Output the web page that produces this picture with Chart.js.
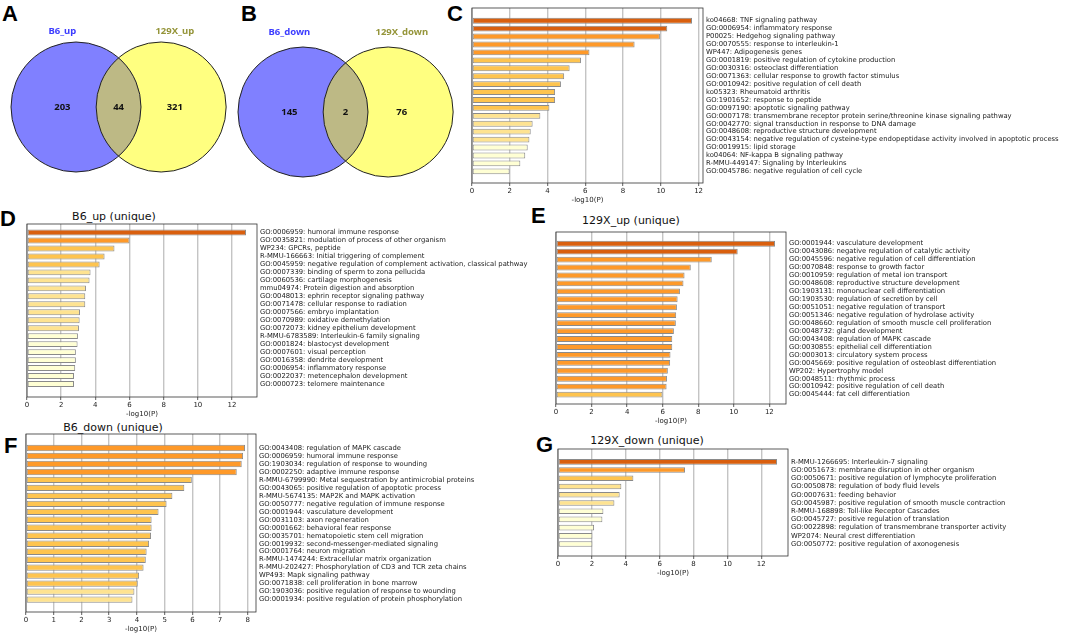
<!DOCTYPE html>
<html>
<head>
<meta charset="utf-8">
<script src="https://cdn.jsdelivr.net/npm/chart.js@4.4.0/dist/chart.umd.min.js"></script>
<style>
  body { margin: 0; background: #fff; width: 1065px; height: 635px; position: relative; overflow: hidden; }
  canvas { position: absolute; }
  .letter { position: absolute; font: bold 22px "Liberation Sans", Arial, sans-serif; line-height: 22px; color: #000; }
  .ttl { position: absolute; font: 11px "DejaVu Sans", sans-serif; line-height: 13px; color: #111; transform: translateX(-50%); white-space: nowrap; }
</style>
</head>
<body>
<div class="letter" style="left:2px;top:3px">A</div>
<div class="letter" style="left:241px;top:3px">B</div>
<div class="letter" style="left:447px;top:3px">C</div>
<div class="letter" style="left:0px;top:208px">D</div>
<div class="letter" style="left:531px;top:205px">E</div>
<div class="letter" style="left:4px;top:435px">F</div>
<div class="letter" style="left:536px;top:434px">G</div>

<div class="ttl" style="left:114px;top:210px">B6_up (unique)</div>
<div class="ttl" style="left:631px;top:214px">129X_up (unique)</div>
<div class="ttl" style="left:113px;top:421px">B6_down (unique)</div>
<div class="ttl" style="left:647px;top:434px">129X_down (unique)</div>

<canvas id="vennUp"></canvas>
<canvas id="vennDown"></canvas>
<canvas id="chartC"></canvas>
<canvas id="chartD"></canvas>
<canvas id="chartE"></canvas>
<canvas id="chartF"></canvas>
<canvas id="chartG"></canvas>

<script>
// Venn counts: [left only, shared, right only]
const vennUpNames = ["B6_up", "129X_up"];
const vennUpCounts = [203, 44, 321];
const vennDownNames = ["B6_down", "129X_down"];
const vennDownCounts = [145, 2, 76];

// C: shared terms
const sharedTerms = [
  "ko04668: TNF signaling pathway",
  "GO:0006954: inflammatory response",
  "P00025: Hedgehog signaling pathway",
  "GO:0070555: response to interleukin-1",
  "WP447: Adipogenesis genes",
  "GO:0001819: positive regulation of cytokine production",
  "GO:0030316: osteoclast differentiation",
  "GO:0071363: cellular response to growth factor stimulus",
  "GO:0010942: positive regulation of cell death",
  "ko05323: Rheumatoid arthritis",
  "GO:1901652: response to peptide",
  "GO:0097190: apoptotic signaling pathway",
  "GO:0007178: transmembrane receptor protein serine/threonine kinase signaling pathway",
  "GO:0042770: signal transduction in response to DNA damage",
  "GO:0048608: reproductive structure development",
  "GO:0043154: negative regulation of cysteine-type endopeptidase activity involved in apoptotic process",
  "GO:0019915: lipid storage",
  "ko04064: NF-kappa B signaling pathway",
  "R-MMU-449147: Signaling by Interleukins",
  "GO:0045786: negative regulation of cell cycle",
];
const sharedLogP = [11.65, 10.34, 9.95, 8.61, 6.22, 5.77, 5.17, 4.88, 4.71, 4.4,
  4.4, 4.1, 3.62, 3.21, 3.11, 3.04, 2.95, 2.82, 2.56, 1.99];

// D: B6_up unique
const b6UpTerms = [
  "GO:0006959: humoral immune response",
  "GO:0035821: modulation of process of other organism",
  "WP234: GPCRs, peptide",
  "R-MMU-166663: Initial triggering of complement",
  "GO:0045959: negative regulation of complement activation, classical pathway",
  "GO:0007339: binding of sperm to zona pellucida",
  "GO:0060536: cartilage morphogenesis",
  "mmu04974: Protein digestion and absorption",
  "GO:0048013: ephrin receptor signaling pathway",
  "GO:0071478: cellular response to radiation",
  "GO:0007566: embryo implantation",
  "GO:0070989: oxidative demethylation",
  "GO:0072073: kidney epithelium development",
  "R-MMU-6783589: Interleukin-6 family signaling",
  "GO:0001824: blastocyst development",
  "GO:0007601: visual perception",
  "GO:0016358: dendrite development",
  "GO:0006954: inflammatory response",
  "GO:0022037: metencephalon development",
  "GO:0000723: telomere maintenance",
];
const b6UpLogP = [12.82, 6.0, 5.12, 4.54, 4.25, 3.72, 3.66, 3.45, 3.41, 3.41,
  3.1, 3.08, 3.04, 2.98, 2.96, 2.86, 2.86, 2.82, 2.75, 2.75];

// E: 129X_up unique
const x129UpTerms = [
  "GO:0001944: vasculature development",
  "GO:0043086: negative regulation of catalytic activity",
  "GO:0045596: negative regulation of cell differentiation",
  "GO:0070848: response to growth factor",
  "GO:0010959: regulation of metal ion transport",
  "GO:0048608: reproductive structure development",
  "GO:1903131: mononuclear cell differentiation",
  "GO:1903530: regulation of secretion by cell",
  "GO:0051051: negative regulation of transport",
  "GO:0051346: negative regulation of hydrolase activity",
  "GO:0048660: regulation of smooth muscle cell proliferation",
  "GO:0048732: gland development",
  "GO:0043408: regulation of MAPK cascade",
  "GO:0030855: epithelial cell differentiation",
  "GO:0003013: circulatory system process",
  "GO:0045669: positive regulation of osteoblast differentiation",
  "WP202: Hypertrophy model",
  "GO:0048511: rhythmic process",
  "GO:0010942: positive regulation of cell death",
  "GO:0045444: fat cell differentiation",
];
const x129UpLogP = [12.32, 10.22, 8.76, 7.58, 7.23, 7.17, 6.97, 6.84, 6.8, 6.76,
  6.74, 6.63, 6.54, 6.54, 6.44, 6.42, 6.29, 6.24, 6.22, 5.99];

// F: B6_down unique
const b6DownTerms = [
  "GO:0043408: regulation of MAPK cascade",
  "GO:0006959: humoral immune response",
  "GO:1903034: regulation of response to wounding",
  "GO:0002250: adaptive immune response",
  "R-MMU-6799990: Metal sequestration by antimicrobial proteins",
  "GO:0043065: positive regulation of apoptotic process",
  "R-MMU-5674135: MAP2K and MAPK activation",
  "GO:0050777: negative regulation of immune response",
  "GO:0001944: vasculature development",
  "GO:0031103: axon regeneration",
  "GO:0001662: behavioral fear response",
  "GO:0035701: hematopoietic stem cell migration",
  "GO:0019932: second-messenger-mediated signaling",
  "GO:0001764: neuron migration",
  "R-MMU-1474244: Extracellular matrix organization",
  "R-MMU-202427: Phosphorylation of CD3 and TCR zeta chains",
  "WP493: Mapk signaling pathway",
  "GO:0071838: cell proliferation in bone marrow",
  "GO:1903036: positive regulation of response to wounding",
  "GO:0001934: positive regulation of protein phosphorylation",
];
const b6DownLogP = [7.9, 7.83, 7.78, 7.6, 5.98, 5.71, 5.28, 5.07, 4.78, 4.53,
  4.53, 4.51, 4.44, 4.35, 4.32, 4.24, 4.08, 4.03, 3.91, 3.84];

// G: 129X_down unique
const x129DownTerms = [
  "R-MMU-1266695: Interleukin-7 signaling",
  "GO:0051673: membrane disruption in other organism",
  "GO:0050671: positive regulation of lymphocyte proliferation",
  "GO:0050878: regulation of body fluid levels",
  "GO:0007631: feeding behavior",
  "GO:0045987: positive regulation of smooth muscle contraction",
  "R-MMU-168898: Toll-like Receptor Cascades",
  "GO:0045727: positive regulation of translation",
  "GO:0022898: regulation of transmembrane transporter activity",
  "WP2074: Neural crest differentiation",
  "GO:0050772: positive regulation of axonogenesis",
];
const x129DownLogP = [12.93, 7.5, 4.45, 3.74, 3.64, 3.33, 2.68, 2.62, 2.13, 2.03, 2.03];

Chart.defaults.font.family = "'DejaVu Sans'";
Chart.defaults.animation = false;

// bar colour by -log10(P) band
function barColor(v) {
  if (v >= 10) return "#d95f0e";
  if (v >= 6) return "#fe9929";
  if (v >= 4) return "#fec44f";
  if (v >= 3) return "#fee391";
  return "#ffffd4";
}

const frame = {
  id: "frame",
  afterDraw(chart) {
    const a = chart.chartArea, c = chart.ctx;
    c.save();
    c.strokeStyle = "#333";
    c.lineWidth = 0.8;
    c.strokeRect(a.left, a.top, a.right - a.left, a.bottom - a.top);
    c.restore();
  },
};

function barPanel(id, terms, logP, opt) {
  const PL = 12, PT = 10, XH = 21;
  const cv = document.getElementById(id);
  const W = PL + opt.w + opt.labelW, H = PT + opt.h + XH;
  cv.width = W; cv.height = H;
  cv.style.left = (opt.x - PL) + "px";
  cv.style.top = (opt.y - PT) + "px";
  cv.style.width = W + "px";
  cv.style.height = H + "px";

  new Chart(cv, {
    type: "bar",
    data: {
      datasets: [{
        data: logP.map((v, i) => ({ x: v, y: i })),
        backgroundColor: (ctx) => barColor(logP[ctx.dataIndex]),
        borderColor: "#8a8a8a",
        borderWidth: 1,
        borderSkipped: false,
        barPercentage: opt.bar,
        categoryPercentage: 1,
      }],
    },
    options: {
      indexAxis: "y",
      responsive: false,
      events: [],
      layout: { padding: { left: PL, top: PT, right: 0, bottom: 0 } },
      plugins: { legend: { display: false }, tooltip: { enabled: false } },
      scales: {
        x: {
          type: "linear",
          position: "bottom",
          min: 0,
          max: Math.max(...logP) * 1.05,
          afterFit: (s) => { s.height = XH; },
          grid: { color: "#c4c4c4", lineWidth: 1.4, drawTicks: true, tickLength: 3, tickColor: "#333", tickWidth: 0.8 },
          border: { display: false },
          ticks: { stepSize: opt.step, includeBounds: false, padding: 1, maxRotation: 0, color: "#222", font: { size: 7 } },
          title: { display: true, text: "-log10(P)", color: "#222", font: { size: 7 }, padding: { top: 1, bottom: 0 } },
        },
        y: {
          type: "linear",
          position: "right",
          reverse: true,
          min: -opt.padTop,
          max: terms.length - 1 + opt.padBot,
          afterBuildTicks: (s) => { s.ticks = terms.map((_, i) => ({ value: i })); },
          afterFit: (s) => { s.width = opt.labelW; },
          grid: { display: false, drawTicks: false },
          border: { display: false },
          ticks: { autoSkip: false, padding: 3, color: "#1a1a1a", font: { size: 6.8 }, callback: (v) => terms[v] },
        },
      },
    },
    plugins: [frame],
  });
}

// Venn: two circles of radius 1, centres SEP radii apart
const SEP = 1.31;
const unitPx = (chart) => chart.scales.x.getPixelForValue(1) - chart.scales.x.getPixelForValue(0);

function vennPanel(id, names, counts, opt) {
  const cv = document.getElementById(id);
  cv.width = opt.w; cv.height = opt.h;
  cv.style.left = opt.x + "px"; cv.style.top = "0px";
  cv.style.width = opt.w + "px"; cv.style.height = opt.h + "px";
  const r = opt.r;

  const vennDraw = {
    id: "vennDraw",
    afterDatasetsDraw(chart) {
      const c = chart.ctx, xs = chart.scales.x, ys = chart.scales.y;
      const R = unitPx(chart);
      const ax = xs.getPixelForValue(0), bx = xs.getPixelForValue(SEP), cy = ys.getPixelForValue(0);
      c.save();
      c.beginPath(); c.arc(ax, cy, R, 0, Math.PI * 2); c.clip();
      c.beginPath(); c.arc(bx, cy, R, 0, Math.PI * 2);
      c.fillStyle = "#bdb985"; c.fill();
      c.restore();
      c.save();
      c.strokeStyle = "#222"; c.lineWidth = 1;
      c.beginPath(); c.arc(ax, cy, R, 0, Math.PI * 2); c.stroke();
      c.beginPath(); c.arc(bx, cy, R, 0, Math.PI * 2); c.stroke();
      c.textAlign = "center"; c.textBaseline = "middle";
      c.font = "bold 9.5px 'Noto Sans'";
      c.fillStyle = "#111";
      const cx = [-0.21, SEP / 2, SEP + 0.21];
      counts.forEach((n, i) => c.fillText(String(n), xs.getPixelForValue(cx[i]), cy));
      const ny = ys.getPixelForValue(opt.nameY);
      c.fillStyle = "#3c3cff";
      c.fillText(names[0], xs.getPixelForValue(cx[0]), ny);
      c.fillStyle = "#95953a";
      c.fillText(names[1], xs.getPixelForValue(cx[2]), ny);
      c.restore();
    },
  };

  new Chart(cv, {
    type: "scatter",
    data: {
      datasets: [
        { data: [{ x: 0, y: 0 }], pointBackgroundColor: "#8080ff", pointBorderWidth: 0, pointRadius: (ctx) => unitPx(ctx.chart), clip: false },
        { data: [{ x: SEP, y: 0 }], pointBackgroundColor: "#ffff80", pointBorderWidth: 0, pointRadius: (ctx) => unitPx(ctx.chart), clip: false },
      ],
    },
    options: {
      responsive: false,
      events: [],
      layout: { padding: 0 },
      plugins: { legend: { display: false }, tooltip: { enabled: false } },
      scales: {
        x: { type: "linear", display: false, min: -opt.cx / r, max: (opt.w - opt.cx) / r },
        y: { type: "linear", display: false, min: -(opt.h - opt.cy) / r, max: opt.cy / r },
      },
    },
    plugins: [vennDraw],
  });
}

vennPanel("vennUp", vennUpNames, vennUpCounts, { x: 0, w: 235, h: 200, cx: 76, cy: 107, r: 65, nameY: 1.16 });
vennPanel("vennDown", vennDownNames, vennDownCounts, { x: 230, w: 235, h: 200, cx: 73, cy: 112, r: 65, nameY: 1.22 });

barPanel("chartC", sharedTerms, sharedLogP, { x: 472, y: 8, w: 231, h: 175, labelW: 362, step: 2, padTop: 1.05, padBot: 0.92, bar: 0.74 });
barPanel("chartD", b6UpTerms, b6UpLogP, { x: 27, y: 224, w: 230, h: 173, labelW: 278, step: 2, padTop: 0.53, padBot: 1.09, bar: 0.74 });
barPanel("chartE", x129UpTerms, x129UpLogP, { x: 556, y: 232, w: 230, h: 172, labelW: 279, step: 2, padTop: 0.93, padBot: 0.64, bar: 0.74 });
barPanel("chartF", b6DownTerms, b6DownLogP, { x: 26, y: 434, w: 230, h: 178, labelW: 279, step: 1, padTop: 1.2, padBot: 1.0, bar: 0.8 });
barPanel("chartG", x129DownTerms, x129DownLogP, { x: 558, y: 449, w: 230, h: 107, labelW: 277, step: 2, padTop: 0.97, padBot: 0.86, bar: 0.68 });
</script>
</body>
</html>
